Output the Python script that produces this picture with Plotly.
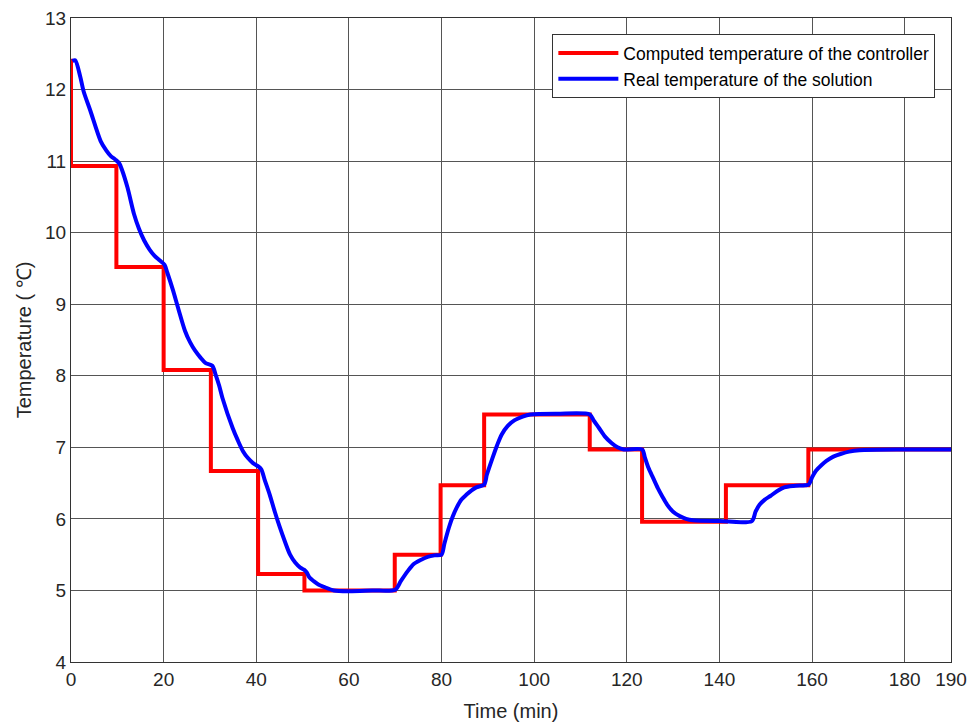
import plotly.graph_objects as go

# Computed temperature of the controller (step profile)
red_x = [0, 0, 9.8, 9.8, 20, 20, 30.2, 30.2, 40.4, 40.4, 50.4, 50.4, 69.9, 69.9,
         79.8, 79.8, 89.2, 89.2, 112.0, 112.0, 123.3, 123.3, 141.4, 141.4, 159.2, 159.2, 190]
red_y = [12.43, 10.93, 10.93, 9.52, 9.52, 8.08, 8.08, 6.67, 6.67, 5.23, 5.23, 5.0, 5.0, 5.50,
         5.50, 6.47, 6.47, 7.46, 7.46, 6.97, 6.97, 5.96, 5.96, 6.47, 6.47, 6.97, 6.97]

# Real temperature of the solution
blue_x = [0.3, 0.9, 2.0, 2.7, 4.2, 6.4, 7.6, 8.6, 9.6, 10.4,
          11.0, 12.2, 13.6, 14.7, 15.8, 17.0, 18.0, 19.2, 20.2,
          20.8, 22.0, 23.2, 24.6, 25.7, 26.8, 28.0, 29.0, 30.5,
          31.2, 32.0, 32.7, 34.9, 36.0, 37.1, 38.2, 39.3, 40.5, 41.1,
          41.8, 42.9, 44.0, 45.1, 46.2, 47.3, 48.4, 49.5, 50.3, 50.9, 51.5, 52.4, 53.5, 54.6, 56.8,
          60.0, 65.0, 70.0,
          71.2, 72.7, 74.0, 75.6, 77.0, 78.5, 80.0,
          80.6, 81.6, 82.4, 83.3, 84.3, 85.4, 86.5, 87.5, 89.2,
          89.8, 91.0, 92.0, 93.0, 94.3, 95.8, 97.5, 99.2, 105.0, 112.0,
          112.8, 114.0, 115.3, 116.7, 118.0, 119.4, 123.3,
          123.9, 124.7, 125.7, 126.7, 127.7, 128.7, 130.0, 131.4, 132.8, 134.3, 140.0, 147.0,
          147.8, 148.7, 149.8, 151.0, 152.5, 154.0, 156.0, 158.5, 159.3,
          160.0, 160.8, 162.0, 163.1, 164.6, 166.3, 168.0, 170.2, 180.0, 190.0]
blue_y = [12.40, 12.41, 12.18, 11.98, 11.70, 11.28, 11.15, 11.07, 11.02, 10.97,
          10.88, 10.63, 10.26, 10.05, 9.89, 9.76, 9.68, 9.61, 9.55,
          9.44, 9.20, 8.93, 8.63, 8.47, 8.35, 8.25, 8.18, 8.14,
          8.02, 7.86, 7.69, 7.27, 7.10, 6.95, 6.85, 6.78, 6.73, 6.69,
          6.55, 6.34, 6.10, 5.88, 5.68, 5.50, 5.39, 5.32, 5.29, 5.25, 5.18, 5.13, 5.08, 5.05, 5.00,
          4.99, 5.00, 5.01,
          5.13, 5.27, 5.37, 5.43, 5.47, 5.49, 5.50,
          5.65, 5.88, 6.03, 6.16, 6.27, 6.34, 6.40, 6.44, 6.48,
          6.62, 6.85, 7.03, 7.18, 7.30, 7.38, 7.43, 7.46, 7.47, 7.46,
          7.38, 7.27, 7.15, 7.06, 7.00, 6.97, 6.97,
          6.86, 6.71, 6.57, 6.43, 6.31, 6.20, 6.10, 6.04, 6.00, 5.98, 5.97, 5.97,
          6.10, 6.20, 6.27, 6.32, 6.39, 6.44, 6.46, 6.47, 6.48,
          6.58, 6.67, 6.75, 6.81, 6.87, 6.91, 6.94, 6.96, 6.97, 6.97]

x_ticks = [0, 20, 40, 60, 80, 100, 120, 140, 160, 180, 190]
y_ticks = [4, 5, 6, 7, 8, 9, 10, 11, 12, 13]

fig = go.Figure()
fig.add_trace(go.Scatter(x=red_x, y=red_y, mode="lines",
                         line=dict(color="#ff0000", width=4),
                         name="Computed temperature of the controller"))
fig.add_trace(go.Scatter(x=blue_x, y=blue_y, mode="lines",
                         line=dict(color="#0000ff", width=4, shape="spline", smoothing=0.8),
                         name="Real temperature of the solution"))

font_family = "Liberation Sans, Arial, sans-serif"
fig.update_layout(
    width=976, height=726,
    margin=dict(l=63, r=33, t=10, b=72, autoexpand=False),
    paper_bgcolor="white", plot_bgcolor="white",
    font=dict(family=font_family, size=19, color="#262626"),
    showlegend=True,
    legend=dict(x=0.547, y=0.975, xanchor="left", yanchor="top",
                bgcolor="white", bordercolor="#333333", borderwidth=1,
                font=dict(size=17.5, color="#000000"), tracegroupgap=0,
                itemwidth=60),
    xaxis=dict(range=[0, 190], tickvals=x_ticks, ticktext=[str(v) for v in x_ticks],
               showgrid=True, gridcolor="#555555", gridwidth=1,
               showline=True, linecolor="#333333", linewidth=1, mirror=True,
               ticks="", zeroline=False, automargin=False, ticklabeloverflow="allow",
               title=dict(text="Time (min)", font=dict(size=20), standoff=15),
               tickfont=dict(size=19)),
    yaxis=dict(range=[4, 13], tickvals=y_ticks, ticktext=[str(v) for v in y_ticks],
               showgrid=True, gridcolor="#555555", gridwidth=1,
               showline=True, linecolor="#333333", linewidth=1, mirror=True,
               ticks="", zeroline=False, automargin=False, ticklabeloverflow="allow",
               title=dict(text="Temperature ( ℃)", font=dict(size=20), standoff=8),
               tickfont=dict(size=19)),
)

fig.write_html("out.html")
